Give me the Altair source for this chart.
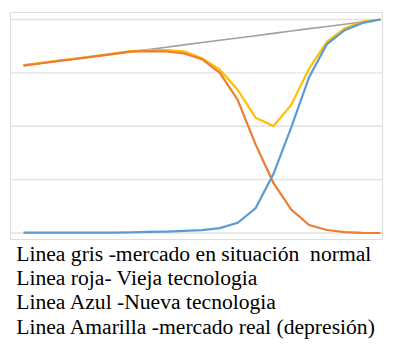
import altair as alt
import pandas as pd

# x positions (periods)
periods = list(range(21))

# Linea gris - mercado en situación normal
normal = [78.4, 79.5, 80.6, 81.6, 82.7, 83.8, 84.9, 85.9, 87.0, 88.1, 89.2,
          90.3, 91.3, 92.4, 93.5, 94.6, 95.7, 96.7, 97.8, 98.9, 100.0]
# Linea roja - vieja tecnologia
vieja = [78.4, 79.5, 80.6, 81.6, 82.7, 83.8, 84.9, 85.2, 85.0, 84.1, 81.4,
         75.0, 62.3, 41.5, 23.5, 11.0, 3.7, 1.4, 0.4, 0.1, 0.0]
# Linea azul - nueva tecnologia
nueva = [0.2, 0.2, 0.2, 0.2, 0.2, 0.2, 0.3, 0.5, 0.7, 1.0, 1.4,
         2.3, 4.8, 11.6, 27.6, 49.5, 73.0, 88.5, 95.0, 98.4, 100.0]
# Linea amarilla - mercado real (depresión)
real = [78.6, 79.7, 80.8, 81.8, 82.9, 84.0, 85.2, 85.7, 85.7, 85.1, 81.9,
        76.5, 67.0, 54.0, 50.1, 60.0, 77.0, 89.6, 95.9, 99.0, 100.0]

caption = [
    "Linea gris -mercado en situación\u00a0 normal",
    "Linea roja- Vieja tecnologia",
    "Linea Azul -Nueva tecnologia",
    "Linea Amarilla -mercado real (depresión)",
]

grid_values = [0, 25, 50, 75, 100]

series = [
    ("normal", normal, "#A0A0A0", 1.6),
    ("real", real, "#FFC000", 2.2),
    ("vieja", vieja, "#ED7D31", 2.2),
    ("nueva", nueva, "#5B9BD5", 2.2),
]

xscale = alt.Scale(domain=[-0.756, 20.084], nice=False, zero=False)
yscale = alt.Scale(domain=[-2.8, 103.5], nice=False, zero=False)

grid_df = pd.DataFrame({"g": grid_values})
grid = alt.Chart(grid_df).mark_rule(color="#E2E2E2", strokeWidth=1.4).encode(
    y=alt.Y("g:Q", scale=yscale, axis=None)
)

layers = [grid]
for i, (name, vals, color, sw) in enumerate(series):
    df = pd.DataFrame({"t": periods, "v": vals})
    x_enc = alt.X("t:Q", scale=xscale,
                  axis=alt.Axis(labels=False, title=None, grid=False,
                                domainColor="#BFBFBF", domainWidth=1,
                                tickColor="#C8C8C8", tickSize=2,
                                values=[v / 4 for v in range(-3, 81)]) if i == 0 else None)
    y_enc = alt.Y("v:Q", scale=yscale, axis=None)
    layers.append(
        alt.Chart(df).mark_line(color=color, strokeWidth=sw, interpolate="linear")
        .encode(x=x_enc, y=y_enc)
    )

chart = alt.layer(*layers).properties(
    width=372,
    height=227,
    autosize=alt.AutoSizeParams(type="none"),
    padding={"left": 2, "top": 4, "right": 17, "bottom": 110},
    title=alt.TitleParams(
        text=caption,
        orient="bottom",
        anchor="start",
        dx=7,
        offset=5,
        font="Liberation Serif",
        fontSize=21.6,
        fontWeight="normal",
        color="#000000",
        lineHeight=24.2,
    ),
).configure_view(fill="#F7F7F7", stroke=None).configure(background="white")

chart.save("out.html", embed_options={"renderer": "svg", "actions": False})
